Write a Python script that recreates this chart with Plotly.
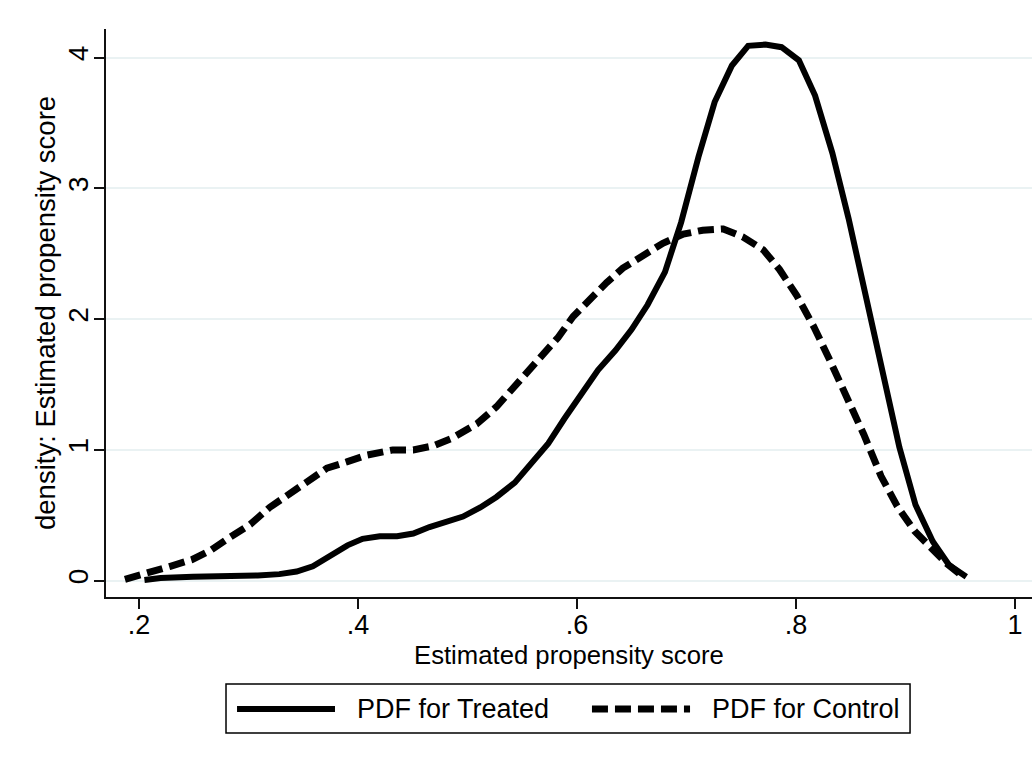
import plotly.graph_objects as go

# Estimated propensity score densities
treated_x = [0.205, 0.2197, 0.2493, 0.2789, 0.3085, 0.3282, 0.3440, 0.3588, 0.3746, 0.3904,
             0.4042, 0.4199, 0.4357, 0.4505, 0.4653, 0.4811, 0.4959, 0.5117, 0.5265, 0.5432,
             0.5590, 0.5738, 0.5886, 0.6044, 0.6192, 0.6350, 0.6498, 0.6645, 0.6803, 0.6951,
             0.7109, 0.7257, 0.7415, 0.7563, 0.7721, 0.7868, 0.8026, 0.8174, 0.8332, 0.8480,
             0.8638, 0.8786, 0.8944, 0.9091, 0.9249, 0.9397, 0.9555]
treated_y = [0.005, 0.02, 0.03, 0.03, 0.04, 0.05, 0.07, 0.11, 0.19, 0.27,
             0.32, 0.34, 0.34, 0.36, 0.41, 0.45, 0.49, 0.56, 0.64, 0.75,
             0.91, 1.05, 1.24, 1.43, 1.61, 1.76, 1.92, 2.11, 2.36, 2.74,
             3.24, 3.66, 3.94, 4.09, 4.10, 4.08, 3.98, 3.71, 3.27, 2.77,
             2.17, 1.57, 1.02, 0.58, 0.30, 0.12, 0.03]

control_x = [0.1872, 0.2099, 0.2286, 0.2483, 0.2651, 0.2828, 0.3016, 0.3193, 0.3381, 0.3529,
             0.3716, 0.3904, 0.4081, 0.4318, 0.4505, 0.4683, 0.4860, 0.5087, 0.5265, 0.5403,
             0.5541, 0.5689, 0.5827, 0.5965, 0.6123, 0.6271, 0.6419, 0.6606, 0.6784, 0.6971,
             0.7148, 0.7336, 0.7513, 0.7701, 0.7849, 0.8007, 0.8164, 0.8312, 0.8470, 0.8618,
             0.8776, 0.8924, 0.9082, 0.9230, 0.9377, 0.9496]
control_y = [0.01, 0.06, 0.11, 0.16, 0.23, 0.33, 0.43, 0.56, 0.67, 0.76,
             0.86, 0.91, 0.96, 1.00, 1.00, 1.03, 1.09, 1.20, 1.33, 1.46,
             1.59, 1.71, 1.86, 2.02, 2.16, 2.28, 2.39, 2.49, 2.58, 2.65,
             2.68, 2.69, 2.63, 2.53, 2.38, 2.18, 1.94, 1.68, 1.40, 1.12,
             0.80, 0.57, 0.38, 0.25, 0.13, 0.05]

x_tick_vals = [0.2, 0.4, 0.6, 0.8, 1.0]
x_tick_text = [".2", ".4", ".6", ".8", "1"]
y_tick_vals = [0, 1, 2, 3, 4]
y_tick_text = ["0", "1", "2", "3", "4"]

series_names = ["PDF for Treated", "PDF for Control"]
x_title = "Estimated propensity score"
y_title = "density: Estimated propensity score"

FONT = "Liberation Sans, Arial, Helvetica, sans-serif"
DASH = "16px,7px"

fig = go.Figure()
fig.add_trace(go.Scatter(x=treated_x, y=treated_y, mode="lines", name=series_names[0],
                         line=dict(color="black", width=6), showlegend=False))
fig.add_trace(go.Scatter(x=control_x, y=control_y, mode="lines", name=series_names[1],
                         line=dict(color="black", width=7, dash=DASH), showlegend=False))

# Manual legend (box + samples + labels) below the plot, in paper coordinates
ly = -0.1972
fig.add_shape(type="rect", xref="paper", yref="paper", x0=0.1296, x1=0.8683, y0=-0.2394, y1=-0.1532,
              line=dict(color="black", width=1.5), fillcolor="white")
fig.add_shape(type="line", xref="paper", yref="paper", x0=0.1415, x1=0.2473, y0=ly, y1=ly,
              line=dict(color="black", width=6))
fig.add_shape(type="line", xref="paper", yref="paper", x0=0.5248, x1=0.6307, y0=ly, y1=ly,
              line=dict(color="black", width=7, dash=DASH))
fig.add_annotation(xref="paper", yref="paper", x=0.2689, y=ly, text=series_names[0], showarrow=False,
                   xanchor="left", yanchor="middle", font=dict(family=FONT, size=27, color="black"))
fig.add_annotation(xref="paper", yref="paper", x=0.6523, y=ly, text=series_names[1], showarrow=False,
                   xanchor="left", yanchor="middle", font=dict(family=FONT, size=27, color="black"))

# Axis titles placed as annotations for exact positioning
fig.add_annotation(xref="paper", yref="paper", x=0.5, y=-0.1022, text=x_title, showarrow=False,
                   xanchor="center", yanchor="middle", font=dict(family=FONT, size=25.7, color="black"))
fig.add_annotation(xref="paper", yref="paper", x=-0.0659, y=0.5, text=y_title, showarrow=False,
                   textangle=-90, xanchor="center", yanchor="middle",
                   font=dict(family=FONT, size=27.5, color="black"))

fig.update_layout(
    width=1035, height=763,
    margin=dict(l=106, r=3, t=29, b=166, autoexpand=False),
    paper_bgcolor="white", plot_bgcolor="white",
    font=dict(family=FONT, size=25, color="black"),
    showlegend=False,
    xaxis=dict(
        range=[0.1699, 1.0155], tickvals=x_tick_vals, ticktext=x_tick_text,
        showline=True, linecolor="#111", linewidth=2, mirror=False,
        ticks="outside", ticklen=10, tickwidth=1.5, tickcolor="#111",
        showgrid=False, zeroline=False, automargin=False,
        ticklabelstandoff=-7,
        tickfont=dict(family=FONT, size=27, color="black"),
    ),
    yaxis=dict(
        range=[-0.125, 4.219], tickvals=y_tick_vals, ticktext=y_tick_text,
        showline=True, linecolor="#111", linewidth=2, mirror=False,
        ticks="outside", ticklen=10, tickwidth=1.5, tickcolor="#111",
        showgrid=True, gridcolor="#eaf2f3", gridwidth=1.5, zeroline=False,
        tickangle=-90, automargin=False,
        ticklabelstandoff=-5,
        tickfont=dict(family=FONT, size=28, color="black"),
    ),
)

fig.write_html("out.html", config={"displayModeBar": False},
               post_script="document.body.style.margin='0';")
